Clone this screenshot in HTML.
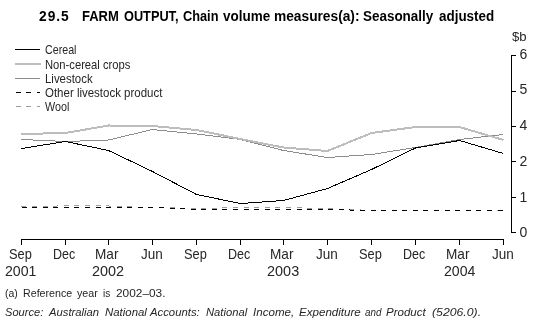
<!DOCTYPE html>
<html><head><meta charset="utf-8"><style>
html,body{margin:0;padding:0;background:#fff;width:541px;height:330px;overflow:hidden}
body{position:relative;font-family:"Liberation Sans",sans-serif}
#t div{position:absolute;white-space:pre;line-height:1;transform-origin:0 0}
#t{position:absolute;left:0;top:0;width:541px;height:330px;filter:grayscale(1);color:#262626}
</style></head><body>
<svg width="541" height="330" style="position:absolute;left:0;top:0" shape-rendering="crispEdges">
<rect x="15" y="49" width="25" height="1" fill="#000"/>
<rect x="15" y="63" width="26" height="2" fill="#bdbdbd"/>
<rect x="15" y="78" width="25" height="1" fill="#8c8c8c"/>
<rect x="16" y="92" width="5" height="1" fill="#000"/>
<rect x="16" y="106" width="5" height="1" fill="#9c9c9c"/>
<rect x="26" y="92" width="5" height="1" fill="#000"/>
<rect x="26" y="106" width="5" height="1" fill="#9c9c9c"/>
<rect x="37" y="92" width="3" height="1" fill="#000"/>
<rect x="37" y="106" width="3" height="1" fill="#9c9c9c"/>
<rect x="511" y="55" width="1" height="178" fill="#000"/>
<rect x="511" y="55" width="5" height="1" fill="#000"/>
<rect x="511" y="91" width="5" height="1" fill="#000"/>
<rect x="511" y="126" width="5" height="1" fill="#000"/>
<rect x="511" y="161" width="5" height="1" fill="#000"/>
<rect x="511" y="197" width="5" height="1" fill="#000"/>
<rect x="511" y="232" width="5" height="1" fill="#000"/>
<rect x="21" y="239" width="483" height="1" fill="#000"/>
<rect x="21" y="239" width="1" height="6" fill="#000"/>
<rect x="65" y="239" width="1" height="6" fill="#000"/>
<rect x="108" y="239" width="1" height="6" fill="#000"/>
<rect x="152" y="239" width="1" height="6" fill="#000"/>
<rect x="196" y="239" width="1" height="6" fill="#000"/>
<rect x="240" y="239" width="1" height="6" fill="#000"/>
<rect x="283" y="239" width="1" height="6" fill="#000"/>
<rect x="327" y="239" width="1" height="6" fill="#000"/>
<rect x="371" y="239" width="1" height="6" fill="#000"/>
<rect x="415" y="239" width="1" height="6" fill="#000"/>
<rect x="459" y="239" width="1" height="6" fill="#000"/>
<rect x="503" y="239" width="1" height="6" fill="#000"/>
<polyline fill="none" stroke="#9c9c9c" stroke-width="1" stroke-dasharray="5 5.58" points="21.5,206.5 65.5,205.9 108.5,206 152.5,207.5 196.5,208.5 240.5,207.5 283.5,207.5 327.5,208.5 371.5,210.5 415.5,210.5 459.5,210.5 503.5,210.5"/>
<polyline fill="none" stroke="#000" stroke-width="1" stroke-dasharray="5 5.58" points="21.5,207.5 65.5,207.5 108.5,207.5 152.5,207.5 196.5,209.5 240.5,209.5 283.5,209.5 327.5,209.5 371.5,210.5 415.5,210.5 459.5,210.5 503.5,210"/>
<polyline fill="none" stroke="#8c8c8c" stroke-width="1" points="21.5,139.5 65.5,141.5 108.5,140 152.5,129.5 196.5,134 240.5,139.5 283.5,150.5 327.5,157.5 371.5,154.5 415.5,147.5 459.5,139.5 503.5,134.5"/>
<polyline fill="none" stroke="#bdbdbd" stroke-width="2" points="21.5,134 65.5,133 108.5,125.5 152.5,126 196.5,130 240.5,139 283.5,147.5 327.5,151 371.5,133 415.5,127 459.5,127 503.5,140"/>
<polyline fill="none" stroke="#000" stroke-width="1" points="21.5,148.5 65.5,141.5 108.5,150.5 152.5,171.5 196.5,194.5 240.5,203.5 283.5,200.5 327.5,188.5 371.5,169.5 415.5,148 459.5,140.5 503.5,153.5"/>
</svg>
<div id="t"><div style="left:39.02px;top:8.95px;font-size:14.00px;font-weight:bold;color:#000;letter-spacing:1px;transform:scaleX(0.9836)">29.5</div>
<div style="left:82.07px;top:8.95px;font-size:14.00px;font-weight:bold;color:#000;transform:scaleX(0.9290)">FARM</div>
<div style="left:124.00px;top:8.95px;font-size:14.00px;font-weight:bold;color:#000;transform:scaleX(0.9102)">OUTPUT,</div>
<div style="left:183.00px;top:8.95px;font-size:14.00px;font-weight:bold;color:#000;transform:scaleX(0.9109)">Chain</div>
<div style="left:223.18px;top:8.95px;font-size:14.00px;font-weight:bold;color:#000;transform:scaleX(0.9614)">volume</div>
<div style="left:274.02px;top:8.95px;font-size:14.00px;font-weight:bold;color:#000;transform:scaleX(0.9812)">measures(a):</div>
<div style="left:363.22px;top:8.95px;font-size:14.00px;font-weight:bold;color:#000;transform:scaleX(0.9603)">Seasonally</div>
<div style="left:439.21px;top:8.95px;font-size:14.00px;font-weight:bold;color:#000;transform:scaleX(0.9579)">adjusted</div>
<div style="left:45.22px;top:43.49px;font-size:13.00px;transform:scaleX(0.8213)">Cereal</div>
<div style="left:45.07px;top:58.09px;font-size:13.00px;transform:scaleX(0.8623)">Non-cereal crops</div>
<div style="left:45.12px;top:72.19px;font-size:13.00px;transform:scaleX(0.8793)">Livestock</div>
<div style="left:44.83px;top:86.19px;font-size:13.00px;transform:scaleX(0.8827)">Other livestock product</div>
<div style="left:44.77px;top:100.19px;font-size:13.00px;transform:scaleX(0.8276)">Wool</div>
<div style="left:512.22px;top:30.17px;font-size:13.50px;transform:scaleX(0.9739)">$b</div>
<div style="left:519.50px;top:46.95px;font-size:14.00px">6</div>
<div style="left:519.50px;top:82.05px;font-size:14.00px">5</div>
<div style="left:519.50px;top:118.05px;font-size:14.00px">4</div>
<div style="left:519.50px;top:154.25px;font-size:14.00px">2</div>
<div style="left:519.50px;top:190.15px;font-size:14.00px">1</div>
<div style="left:519.50px;top:224.95px;font-size:14.00px">0</div>
<div style="left:8.64px;top:247.32px;font-size:14.50px;transform:scaleX(0.8847)">Sep</div>
<div style="left:53.33px;top:247.32px;font-size:14.50px;transform:scaleX(0.8626)">Dec</div>
<div style="left:95.05px;top:247.32px;font-size:14.50px;transform:scaleX(0.9380)">Mar</div>
<div style="left:141.40px;top:247.32px;font-size:14.50px;transform:scaleX(0.9316)">Jun</div>
<div style="left:183.64px;top:247.32px;font-size:14.50px;transform:scaleX(0.8847)">Sep</div>
<div style="left:228.33px;top:247.32px;font-size:14.50px;transform:scaleX(0.8626)">Dec</div>
<div style="left:270.05px;top:247.32px;font-size:14.50px;transform:scaleX(0.9380)">Mar</div>
<div style="left:316.40px;top:247.32px;font-size:14.50px;transform:scaleX(0.9316)">Jun</div>
<div style="left:358.64px;top:247.32px;font-size:14.50px;transform:scaleX(0.8847)">Sep</div>
<div style="left:403.33px;top:247.32px;font-size:14.50px;transform:scaleX(0.8626)">Dec</div>
<div style="left:446.05px;top:247.32px;font-size:14.50px;transform:scaleX(0.9380)">Mar</div>
<div style="left:492.40px;top:247.32px;font-size:14.50px;transform:scaleX(0.9316)">Jun</div>
<div style="left:5.20px;top:263.95px;font-size:14.00px;transform:scaleX(1.0097)">2001</div>
<div style="left:91.59px;top:263.95px;font-size:14.00px;transform:scaleX(1.0293)">2002</div>
<div style="left:266.59px;top:263.95px;font-size:14.00px;transform:scaleX(1.0333)">2003</div>
<div style="left:444.18px;top:263.95px;font-size:14.00px;transform:scaleX(1.0067)">2004</div>
<div style="left:5.02px;top:287.09px;font-size:11.70px;transform:scaleX(0.8954)">(a)</div>
<div style="left:23.20px;top:287.09px;font-size:11.70px;transform:scaleX(0.9134)">Reference</div>
<div style="left:76.63px;top:287.09px;font-size:11.70px;transform:scaleX(0.9142)">year</div>
<div style="left:102.84px;top:287.09px;font-size:11.70px;transform:scaleX(0.8556)">is</div>
<div style="left:115.58px;top:287.09px;font-size:11.70px;transform:scaleX(1.0155)">2002–03.</div>
<div style="left:5.00px;top:307.11px;font-size:11.80px;font-style:italic;transform:scaleX(0.9403)">Source:</div>
<div style="left:48.76px;top:307.11px;font-size:11.80px;font-style:italic;transform:scaleX(0.9549)">Australian</div>
<div style="left:104.62px;top:307.11px;font-size:11.80px;font-style:italic;transform:scaleX(0.9677)">National</div>
<div style="left:150.37px;top:307.11px;font-size:11.80px;font-style:italic;transform:scaleX(0.9597)">Accounts:</div>
<div style="left:206.39px;top:307.11px;font-size:11.80px;font-style:italic;transform:scaleX(0.9502)">National</div>
<div style="left:252.79px;top:307.11px;font-size:11.80px;font-style:italic;transform:scaleX(0.9829)">Income,</div>
<div style="left:298.60px;top:307.11px;font-size:11.80px;font-style:italic;transform:scaleX(0.9810)">Expenditure</div>
<div style="left:364.67px;top:307.11px;font-size:11.80px;font-style:italic;transform:scaleX(0.8314)">and</div>
<div style="left:386.41px;top:307.11px;font-size:11.80px;font-style:italic;transform:scaleX(0.9756)">Product</div>
<div style="left:432.40px;top:307.11px;font-size:11.80px;font-style:italic;transform:scaleX(1.0393)">(5206.0).</div></div>
</body></html>
